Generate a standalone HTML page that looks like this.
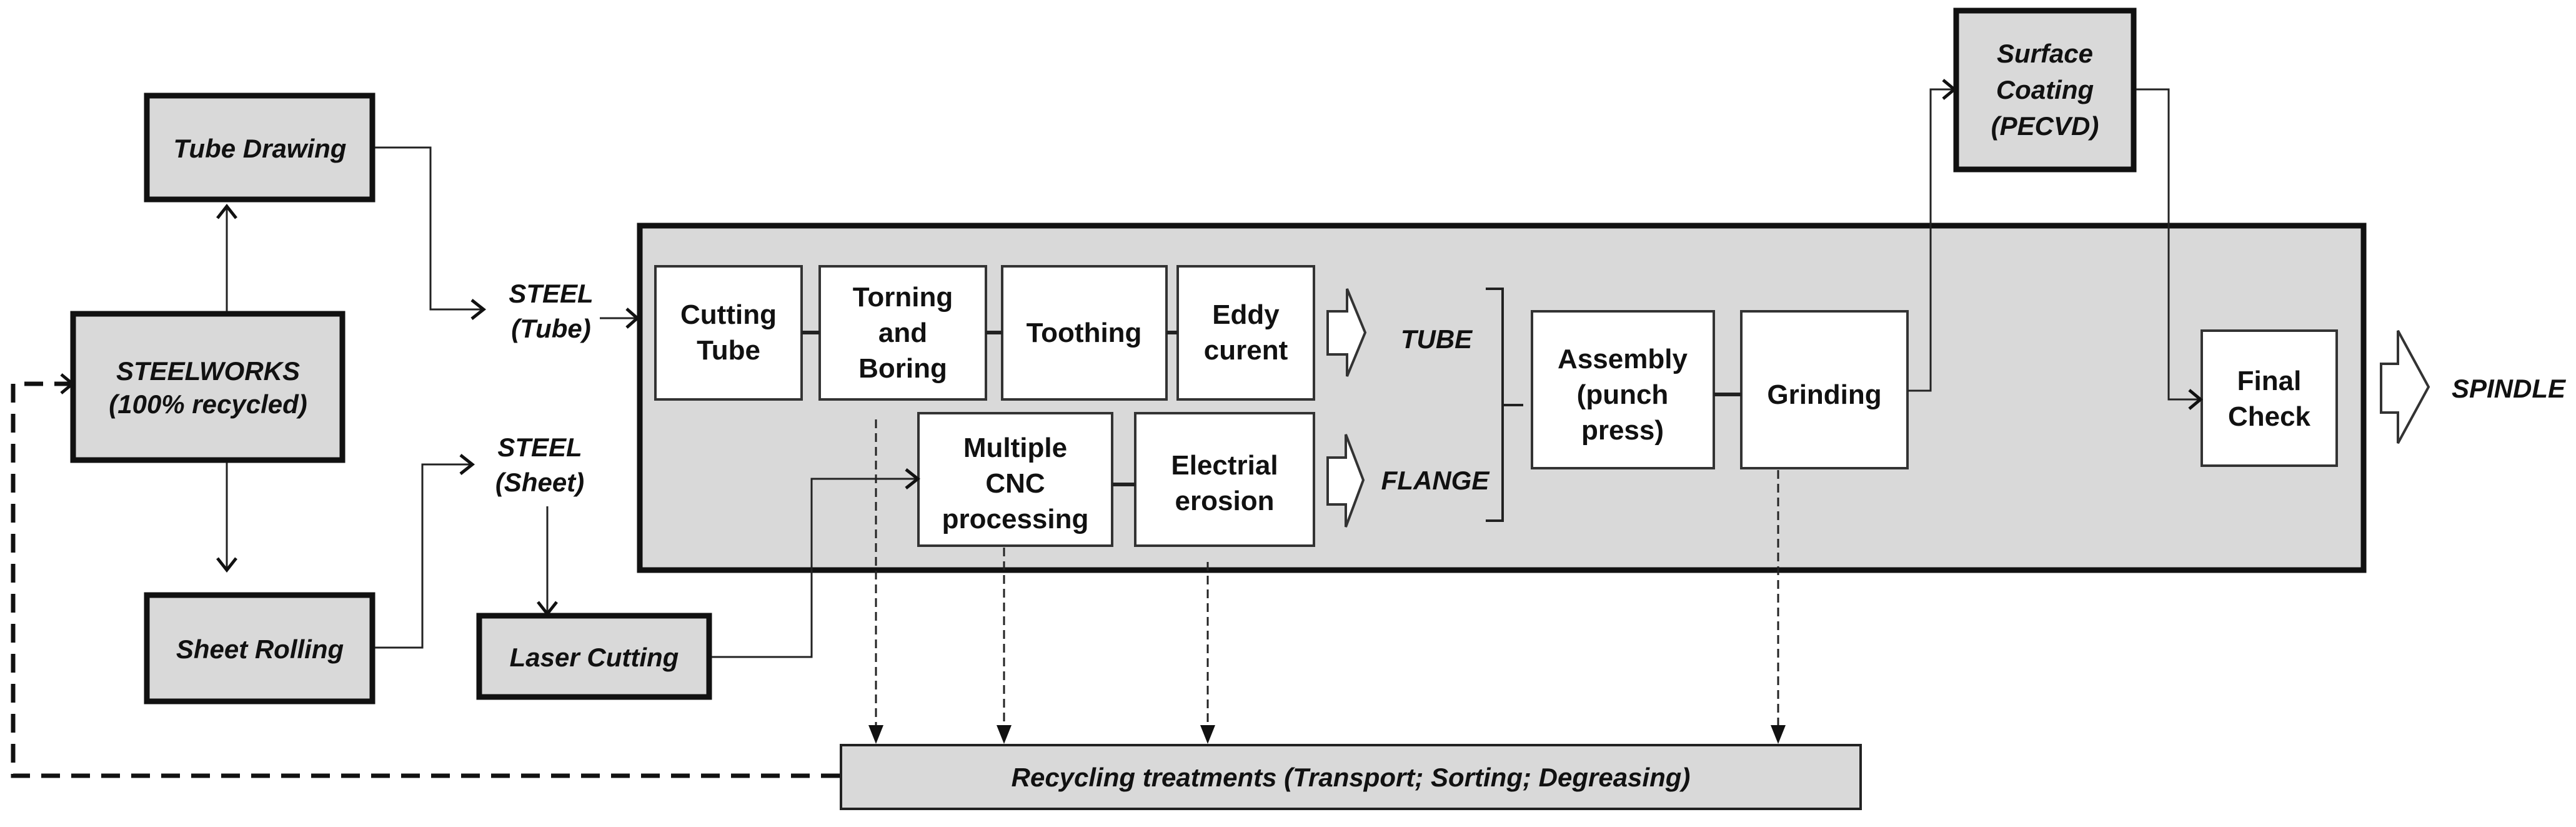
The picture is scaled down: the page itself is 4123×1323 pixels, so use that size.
<!DOCTYPE html>
<html><head><meta charset="utf-8"><style>
html,body{margin:0;padding:0;background:#fff;}
svg{display:block}
text{font-family:"Liberation Sans",Arial,sans-serif;font-weight:bold;fill:#111;}
.it{font-style:italic}
</style></head><body>
<svg width="4123" height="1323" viewBox="0 0 4123 1323" xmlns="http://www.w3.org/2000/svg">
<defs>
<marker id="ah" markerWidth="10" markerHeight="10" refX="9" refY="5" orient="auto" markerUnits="userSpaceOnUse" viewBox="0 0 10 10">
</marker>
</defs>
<!-- Outer gray boxes -->
<g fill="#d9d9d9" stroke="#111" stroke-width="9">
<rect x="235" y="153" width="361" height="166"/>
<rect x="117" y="502" width="431" height="234"/>
<rect x="235" y="952" width="361" height="170"/>
<rect x="767" y="985" width="368" height="130"/>
<rect x="1024" y="361" width="2759" height="551"/>
<rect x="3131" y="17" width="284" height="254"/>
</g>
<rect x="1346" y="1192" width="1632" height="102" fill="#d9d9d9" stroke="#222" stroke-width="4"/>
<!-- inner white boxes -->
<g fill="#fff" stroke="#333" stroke-width="4">
<rect x="1049" y="426" width="234" height="213"/>
<rect x="1312" y="426" width="266" height="213"/>
<rect x="1604" y="426" width="263" height="213"/>
<rect x="1885" y="426" width="218" height="213"/>
<rect x="1470" y="661" width="310" height="212"/>
<rect x="1817" y="661" width="286" height="212"/>
<rect x="2452" y="498" width="291" height="251"/>
<rect x="2787" y="498" width="266" height="251"/>
<rect x="3524" y="529" width="216" height="216"/>
</g>
<!-- short thick connectors -->
<g stroke="#222" stroke-width="6">
<line x1="1283" y1="532" x2="1312" y2="532"/>
<line x1="1578" y1="532" x2="1604" y2="532"/>
<line x1="1867" y1="532" x2="1885" y2="532"/>
<line x1="1780" y1="775" x2="1817" y2="775"/>
<line x1="2743" y1="631" x2="2787" y2="631"/>
</g>
<!-- block arrows -->
<g fill="#fff" stroke="#333" stroke-width="4" stroke-linejoin="miter">
<polygon points="2125,498 2156,498 2156,462 2185,532 2156,602 2156,567 2125,567"/>
<polygon points="2125,732 2154,732 2154,695 2182,768 2154,843 2154,807 2125,807"/>
<polygon points="3811,582 3838,582 3838,529 3887,619 3838,709 3838,660 3811,660"/>
</g>
<!-- bracket -->
<path d="M2378,462 L2405,462 L2405,833 L2378,833 M2405,648 L2438,648" fill="none" stroke="#222" stroke-width="4"/>
<!-- connectors thin -->
<g fill="none" stroke="#222" stroke-width="3">
<polyline points="600,236 689,236 689,495 770,495"/>
<polyline points="600,1036 676,1036 676,743 752,743"/>
<polyline points="1139,1051 1299,1051 1299,766 1465,766"/>
<line x1="960" y1="509" x2="1016" y2="509"/>
<line x1="363" y1="498" x2="363" y2="333"/>
<line x1="363" y1="740" x2="363" y2="908"/>
<line x1="876" y1="810" x2="876" y2="978"/>
<polyline points="3053,625 3090,625 3090,143 3124,143"/>
<polyline points="3419,143 3471,143 3471,639 3519,639"/>
</g>
<!-- arrowheads (open chevrons) -->
<g fill="none" stroke="#111" stroke-width="5">
<polyline points="755,480 774,495 755,510"/>
<polyline points="737,728 756,743 737,758"/>
<polyline points="1003,494 1020,509 1003,524"/>
<polyline points="1450,751 1469,766 1450,781"/>
<polyline points="348,349 363,330 378,349"/>
<polyline points="348,893 363,912 378,893"/>
<polyline points="861,963 876,982 891,963"/>
<polyline points="3110,128 3128,143 3110,158"/>
<polyline points="3504,624 3522,639 3504,654"/>
<polyline points="98,599 116,614 98,629"/>
</g>
<!-- dotted drops -->
<g stroke="#222" stroke-width="3" stroke-dasharray="14,8" fill="none">
<line x1="1402" y1="671" x2="1402" y2="1175"/>
<line x1="1607" y1="876" x2="1607" y2="1175"/>
<line x1="1933" y1="899" x2="1933" y2="1175"/>
<line x1="2846" y1="752" x2="2846" y2="1175"/>
</g>
<g fill="#111">
<polygon points="1390,1160 1414,1160 1402,1190"/>
<polygon points="1595,1160 1619,1160 1607,1190"/>
<polygon points="1921,1160 1945,1160 1933,1190"/>
<polygon points="2834,1160 2858,1160 2846,1190"/>
</g>
<!-- big dashed feedback -->
<polyline points="1344,1241 21,1241 21,614 112,614" fill="none" stroke="#111" stroke-width="7" stroke-dasharray="30,18"/>
<!-- labels italic -->
<g class="it" font-size="42" text-anchor="middle">
<text x="416" y="252" class="it">Tube Drawing</text>
<text x="333" y="608" class="it">STEELWORKS</text>
<text x="333" y="661" class="it">(100% recycled)</text>
<text x="416" y="1053" class="it">Sheet Rolling</text>
<text x="951" y="1066" class="it">Laser Cutting</text>
<text x="882" y="484" class="it">STEEL</text>
<text x="882" y="540" class="it">(Tube)</text>
<text x="864" y="730" class="it">STEEL</text>
<text x="864" y="786" class="it">(Sheet)</text>
<text x="2299" y="557" class="it">TUBE</text>
<text x="2297" y="783" class="it">FLANGE</text>
<text x="3273" y="100" class="it">Surface</text>
<text x="3273" y="158" class="it">Coating</text>
<text x="3273" y="216" class="it">(PECVD)</text>
<text x="4015" y="636" class="it">SPINDLE</text>
<text x="2162" y="1258" class="it">Recycling treatments (Transport; Sorting; Degreasing)</text>
</g>
<!-- labels inner -->
<g font-size="44" text-anchor="middle">
<text x="1166" y="518">Cutting</text>
<text x="1166" y="575">Tube</text>
<text x="1445" y="490">Torning</text>
<text x="1445" y="547">and</text>
<text x="1445" y="604">Boring</text>
<text x="1735" y="547">Toothing</text>
<text x="1994" y="518">Eddy</text>
<text x="1994" y="575">curent</text>
<text x="1625" y="731">Multiple</text>
<text x="1625" y="788">CNC</text>
<text x="1625" y="845">processing</text>
<text x="1960" y="759">Electrial</text>
<text x="1960" y="816">erosion</text>
<text x="2597" y="589">Assembly</text>
<text x="2597" y="646">(punch</text>
<text x="2597" y="703">press)</text>
<text x="2920" y="646">Grinding</text>
<text x="3632" y="624">Final</text>
<text x="3632" y="681">Check</text>
</g>
</svg>
</body></html>
